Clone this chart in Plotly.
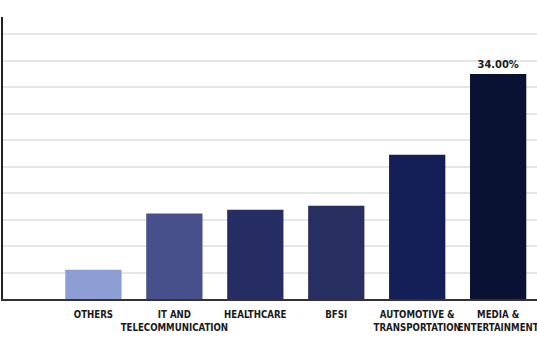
import plotly.graph_objects as go

categories = ["OTHERS", "IT AND<br>TELECOMMUNICATION", "HEALTHCARE", "BFSI",
              "AUTOMOTIVE &<br>TRANSPORTATION", "MEDIA &<br>ENTERTAINMENT"]
values = [4.4, 12.9, 13.5, 14.1, 21.8, 34.0]
labels = ["", "", "", "", "", "34.00%"]
colors = ["#8c9ed4", "#47508a", "#252d63", "#262f5f", "#141f57", "#0a1233"]
y_ticks = [0, 4, 8, 12, 16, 20, 24, 28, 32, 36, 40]

FONT = "DejaVu Sans Condensed"

fig = go.Figure(go.Bar(
    x=list(range(len(categories))),
    y=values,
    marker=dict(color=colors, line=dict(width=0)),
    text=labels,
    textposition="outside",
    cliponaxis=False,
    textfont=dict(family=FONT, size=11, color="#1a1a1a", weight="bold"),
))

fig.update_layout(
    width=537, height=344,
    margin=dict(l=3, r=0, t=17, b=45, autoexpand=False),
    paper_bgcolor="white", plot_bgcolor="white",
    bargap=0.305,
    showlegend=False,
    xaxis=dict(
        range=[-1.117, 5.48],
        tickmode="array",
        tickvals=list(range(len(categories))),
        ticktext=categories,
        tickangle=0,
        automargin=False,
        ticklabeloverflow="allow",
        ticklabelstandoff=6,
        tickfont=dict(family=FONT, size=9.6, color="#1a1a1a", weight="bold"),
        showline=True, linecolor="#333333", linewidth=1.5,
        showgrid=False, ticks="", zeroline=False,
    ),
    yaxis=dict(
        range=[0, 42.6],
        tickmode="array",
        tickvals=y_ticks,
        showticklabels=False,
        automargin=False,
        showgrid=True, gridcolor="#e6e6e6", gridwidth=1.5,
        showline=True, linecolor="#222222", linewidth=1.5,
        zeroline=False, ticks="",
    ),
)

fig.write_html("out.html")
